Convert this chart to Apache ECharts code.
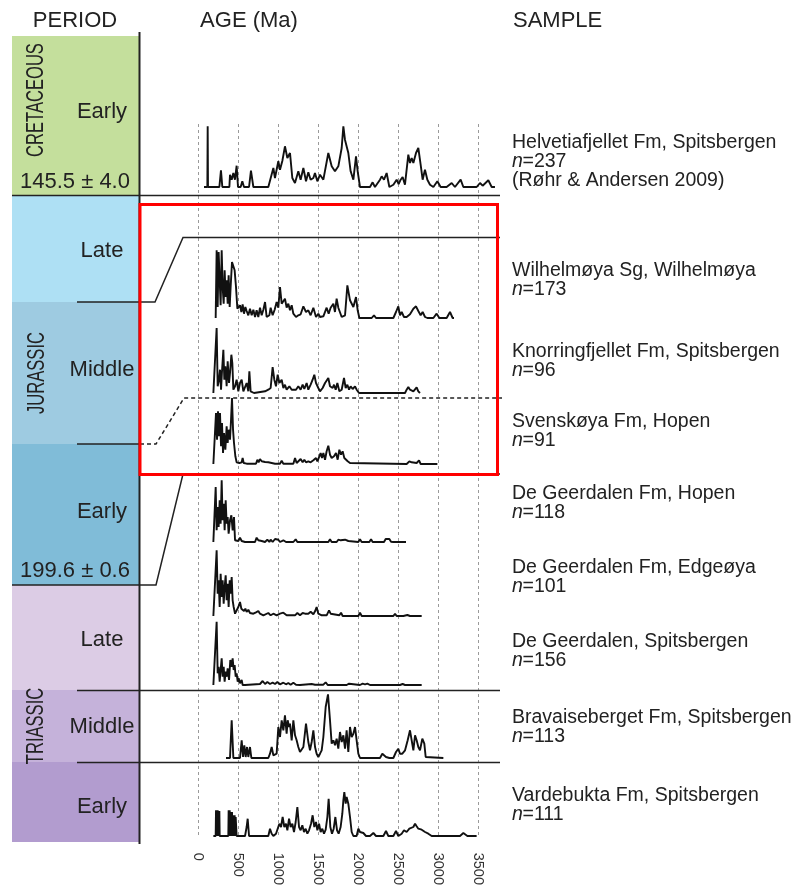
<!DOCTYPE html>
<html><head><meta charset="utf-8">
<script src="https://cdn.jsdelivr.net/npm/echarts@6/dist/echarts.min.js"></script>
<style>html,body{margin:0;padding:0;background:#fff}#c{width:798px;height:888px}</style>
</head><body><div id="c"></div>
<script>
// ---- DATA: detrital zircon age distributions, [age (Ma), relative probability] ----
const helvetiafjellet = [[75,0],[117,0],[121,60.7],[125,0],[267,0],[287,16.7],[304,0],[392,0],[400,12.3],[421,7.3],[442,14],[462,7.3],[483,21.3],[500,0],[533,0],[554,5.7],[575,0],[638,0],[662,16.3],[692,0],[879,0],[942,19],[962,9],[1004,25.7],[1025,17.3],[1054,26],[1087,40.7],[1117,29],[1150,34],[1179,9],[1212,4],[1254,15.7],[1283,7.3],[1317,19],[1350,5.7],[1379,14.7],[1408,7.3],[1442,9],[1462,14],[1492,5.7],[1525,12.3],[1567,7.3],[1629,34],[1671,20.7],[1712,15.7],[1754,20.7],[1796,39],[1817,60.7],[1837,47.3],[1858,48],[1879,34],[1908,15.7],[1942,7.3],[1975,30.7],[1996,15.7],[2025,0],[2150,0],[2183,4.7],[2212,0],[2275,7.3],[2296,10.7],[2325,7.3],[2358,14],[2392,0],[2442,2.3],[2483,7.3],[2508,3],[2533,7.3],[2558,10],[2587,2.3],[2629,32.3],[2650,24],[2671,29],[2692,24],[2725,34],[2754,39],[2783,22.3],[2808,7.3],[2837,17.3],[2867,7.3],[2900,2.3],[2942,0],[2992,5.7],[3033,0],[3108,0],[3171,4],[3212,0],[3283,7.3],[3317,0],[3483,0],[3525,4],[3558,1.3],[3629,6.7],[3671,0],[3712,0]];
const wilhelmoya = [[221,0],[233,67.7],[246,11],[258,66],[271,37.7],[283,12.7],[296,67.7],[308,31],[321,14.3],[333,47.7],[346,21],[358,37.7],[371,14.3],[383,42.7],[396,11],[408,31],[425,56],[442,57.7],[458,47.7],[475,31],[492,9.3],[508,7.7],[525,12.7],[542,6],[558,13.7],[575,4.3],[592,11],[608,7],[629,2.7],[650,9.3],[671,2.7],[692,8.3],[713,1],[733,7.7],[754,1],[775,10.3],[796,2.7],[817,8.3],[838,16],[858,1],[892,2.7],[908,10.3],[933,2.7],[958,8.3],[983,16],[1004,10.3],[1025,31],[1046,14.3],[1067,12.7],[1087,19.3],[1108,10.3],[1129,14.3],[1150,7.7],[1171,12.7],[1192,4.3],[1225,1],[1254,2.7],[1283,3.7],[1317,11.7],[1350,6],[1379,7.7],[1408,2.7],[1442,10.3],[1475,1],[1504,4.3],[1525,1],[1567,1.7],[1608,10.3],[1633,4.3],[1658,10.3],[1692,14.3],[1712,6],[1733,19.3],[1754,10.3],[1796,1],[1838,2.7],[1867,32.7],[1900,17.7],[1942,11],[1975,21],[1996,7.7],[2017,0],[2171,0],[2200,2.7],[2225,0],[2442,0],[2475,6],[2504,11.7],[2525,2.7],[2546,6],[2575,1],[2608,1],[2650,3.7],[2692,9.3],[2725,11.7],[2754,7],[2783,2.7],[2808,6],[2838,1],[2867,0],[2942,0],[2983,4.3],[3017,0],[3108,0],[3150,6],[3183,0],[3200,0]];
const knorringfjellet = [[192,0],[233,65],[246,6.7],[263,13.3],[275,23.3],[288,3.3],[300,21.7],[317,43.3],[329,13.3],[342,26.7],[358,6.7],[371,31.7],[388,10],[400,20],[417,38.3],[429,30],[442,3.3],[463,6.7],[483,13.3],[504,1.7],[525,10],[546,13.3],[567,1.7],[588,1.7],[608,10],[629,1.7],[642,21.7],[658,1.7],[683,0],[700,0],[838,1.7],[879,3.3],[908,5],[933,26],[954,13.3],[975,6.7],[996,18.3],[1017,10],[1046,13.3],[1067,5],[1087,8.3],[1108,3.3],[1142,6.7],[1171,3.3],[1192,5],[1225,3.3],[1254,6.7],[1283,3.3],[1308,8.3],[1329,4],[1358,10],[1379,3.3],[1408,8.3],[1433,13.3],[1454,18.3],[1475,10],[1504,5],[1525,1.7],[1558,5],[1588,10],[1608,8.3],[1629,15],[1650,6.7],[1683,5],[1700,8.3],[1721,3.3],[1742,10],[1767,1.7],[1796,3.3],[1825,15],[1846,5],[1867,8.3],[1888,3.3],[1908,6.7],[1933,4],[1963,6.7],[1983,3.3],[2013,0],[2588,0],[2608,3.3],[2629,6],[2650,3.3],[2671,4],[2692,1.7],[2713,3.3],[2733,5.7],[2754,1.7],[2775,0],[2783,0]];
const svenskoya = [[192,0],[225,51],[238,24.3],[250,52.7],[263,27.7],[275,51],[288,17.7],[300,41],[313,11],[325,31],[342,14.3],[358,37.7],[371,21],[383,34.3],[400,24.3],[413,44.3],[425,66],[438,34.3],[450,21],[467,7.7],[483,1.7],[517,1],[546,1.7],[558,6],[571,1],[608,0.3],[725,0.3],[742,4.3],[758,1.7],[775,5],[796,2.7],[817,4.3],[838,2],[858,3.7],[879,1.7],[900,3.3],[921,1],[963,0.3],[1025,0.3],[1046,3.3],[1067,0.3],[1192,0.3],[1213,6],[1233,1],[1254,1.7],[1283,5],[1308,1.7],[1329,4.3],[1350,1.7],[1379,2.7],[1408,1.7],[1442,3.7],[1475,6],[1492,2.7],[1517,7.7],[1533,11],[1550,6],[1567,11],[1588,4.3],[1608,12.7],[1629,18.3],[1650,9.3],[1671,6],[1700,7.7],[1725,11],[1746,4.3],[1767,14.3],[1788,9.3],[1808,12.7],[1829,6],[1850,7.7],[1871,2.7],[1900,1],[1921,0],[2608,0],[2642,2.7],[2671,1.7],[2692,0.3],[2733,1],[2763,3.7],[2783,0],[2992,0]];
const geerdalenHopen = [[192,0],[221,55],[233,11.7],[246,35],[258,15],[271,41.7],[283,18.3],[296,61.7],[308,21.7],[321,38.3],[333,11.7],[346,41.7],[358,18.3],[371,25],[383,8.3],[400,21.7],[417,26.7],[433,11.7],[450,25],[463,1.7],[483,3.3],[504,1],[525,4.3],[546,1],[588,0],[713,0],[733,4.3],[754,1.7],[775,3.3],[796,1],[817,2.3],[838,0],[867,2.3],[892,0],[908,2.3],[933,0],[963,3],[983,1],[1004,2.3],[1025,0],[1067,1.7],[1100,0],[1192,0],[1221,2.7],[1242,0],[1629,0],[1650,2.7],[1671,0],[1733,0],[1754,2.3],[1783,1.7],[1808,3.3],[1838,2.3],[1858,3.3],[1879,1],[1900,0],[2004,0],[2025,2.7],[2046,0],[2142,0],[2163,2.7],[2183,0],[2325,0],[2346,3],[2367,1],[2392,3],[2413,0.3],[2442,0],[2600,0]];
const geerdalenEdgeoya = [[192,0],[233,65.7],[246,22.3],[258,35.7],[271,9],[283,42.3],[296,19],[308,35.7],[321,12.3],[333,29],[346,40.7],[358,15.7],[371,32.3],[383,9],[396,35.7],[408,22.3],[421,39],[433,15.7],[446,9],[463,2.3],[483,4],[504,9],[525,14],[542,7.3],[558,9],[575,5],[592,7.3],[608,4],[629,6.3],[650,3],[671,5],[692,2.3],[725,3.7],[754,5],[775,2.3],[817,0.7],[879,3],[908,0.7],[942,2.3],[983,0.7],[1025,2.3],[1067,3.3],[1108,0.7],[1213,0.7],[1242,3],[1275,0.7],[1308,3],[1338,2.3],[1358,4],[1379,2.3],[1408,4.3],[1442,1.7],[1463,4.7],[1483,9],[1504,2.3],[1546,0.7],[1608,0.7],[1638,5.7],[1658,2.3],[1683,0.7],[1767,0.7],[1788,3.3],[1808,0],[2004,0],[2025,3.3],[2046,0],[2442,0],[2463,2.3],[2483,0],[2567,0],[2592,2],[2617,1],[2650,0],[2796,0]];
const geerdalenSpitsbergen = [[192,0],[233,63.3],[246,11.7],[258,18.3],[271,3.3],[283,15],[296,26.7],[308,8.3],[321,18.3],[333,3.3],[346,13.3],[358,8.3],[371,16.7],[388,5],[404,25],[421,18.3],[433,26.7],[446,15],[458,20],[471,8.3],[483,11.7],[496,3.3],[508,6.7],[525,1.7],[546,5],[558,0],[588,0],[775,1],[808,4],[838,1],[867,3],[900,1],[933,2.3],[963,1],[992,3],[1025,0.7],[1067,2.3],[1100,0.7],[1129,2],[1158,0.3],[1192,2.3],[1225,0.3],[1275,0],[1421,1],[1442,3],[1463,0.3],[1567,0.3],[1596,2.7],[1621,0],[1858,0],[1888,1.3],[1908,0],[2025,0],[2058,1.3],[2088,0.7],[2117,1.3],[2150,0],[2525,0],[2558,1],[2588,0],[2796,0]];
const bravaiseberget = [[350,0],[400,0],[421,37.7],[442,0],[525,0],[546,17.7],[563,1],[579,12.7],[596,1],[613,11],[629,1],[650,11],[667,0],[879,0],[900,4.3],[921,11],[942,2.7],[983,4.3],[1004,31],[1025,21],[1046,37.7],[1067,27.7],[1087,42.7],[1108,24.3],[1121,37.7],[1138,31],[1150,34.3],[1171,17.7],[1192,37.7],[1213,22.7],[1233,17.7],[1254,11],[1275,6],[1317,11],[1350,34.3],[1379,16],[1400,7.7],[1421,16],[1442,27.7],[1463,11],[1483,4.3],[1504,1],[1525,4.3],[1546,7.7],[1567,21],[1596,51],[1625,63.7],[1650,37.7],[1671,14.3],[1692,17.7],[1713,12.7],[1733,19.3],[1754,9.3],[1775,26],[1796,16],[1817,22.7],[1838,9.3],[1858,27.7],[1879,6],[1900,31],[1921,21],[1942,24.3],[1963,31],[1983,17.7],[2004,4.3],[2025,0],[2275,0],[2304,4.3],[2325,6],[2350,1],[2392,0],[2442,0],[2475,6],[2504,9.3],[2525,4.3],[2554,4.3],[2588,7.7],[2621,17.7],[2650,27.7],[2671,17.7],[2692,7.7],[2713,22.7],[2733,17.7],[2754,11],[2775,7.7],[2804,19.3],[2829,14.3],[2846,1],[2867,0],[3067,0]];
const vardebukta = [[192,0],[221,0],[225,25.7],[229,0],[233,25.7],[238,0],[246,25.7],[250,0],[258,25],[262,0],[267,25],[271,0],[379,0],[383,25.7],[390,0],[396,25.7],[404,0],[410,24],[417,0],[425,24],[431,0],[438,20.7],[446,0],[458,20.7],[464,0],[471,19],[483,0],[588,0],[608,9],[621,17.3],[638,0],[879,0],[900,7.3],[921,2.3],[942,0],[975,2.3],[996,7.3],[1017,12.3],[1038,9],[1058,19],[1079,9],[1100,12.3],[1117,5.7],[1138,17.3],[1158,9],[1179,12.3],[1200,4],[1221,14],[1242,29],[1263,9],[1283,5.7],[1304,10.7],[1325,4],[1346,7.3],[1367,2.3],[1388,5.7],[1413,12.3],[1433,20.7],[1454,9],[1475,14],[1492,5.7],[1513,12.3],[1533,4],[1554,7.3],[1575,2.3],[1596,6.3],[1617,19],[1633,37.3],[1654,9],[1675,2.3],[1696,7.3],[1717,19],[1738,5.7],[1758,2.3],[1783,9],[1804,22.3],[1817,35.7],[1829,44],[1846,32.3],[1858,39],[1879,32.3],[1900,19],[1921,4],[1942,0],[1983,0],[2004,7.3],[2025,4],[2046,2.3],[2067,3],[2100,0],[2150,0],[2192,3],[2225,0],[2317,0],[2350,5],[2379,0],[2442,0],[2475,5],[2504,0],[2546,2.3],[2575,5.7],[2608,4],[2642,7.3],[2663,5.7],[2692,9],[2713,12.3],[2733,9.7],[2754,7.3],[2775,9],[2796,6.3],[2817,5.7],[2838,4],[2858,5],[2879,2.3],[2900,3],[2921,0],[3275,0],[3317,3],[3338,4],[3367,0],[3483,0]];

const sampleNames = ['Helvetiafjellet Fm, Spitsbergen','Wilhelmøya Sg, Wilhelmøya','Knorringfjellet Fm, Spitsbergen','Svenskøya Fm, Hopen','De Geerdalen Fm, Hopen','De Geerdalen Fm, Edgeøya','De Geerdalen, Spitsbergen','Bravaiseberget Fm, Spitsbergen','Vardebukta Fm, Spitsbergen'];
const sampleN = [237,173,96,91,118,101,156,113,111];
const sampleRefs = ['(Røhr & Andersen 2009)','','','','','','','',''];
const curves = [helvetiafjellet,wilhelmoya,knorringfjellet,svenskoya,geerdalenHopen,geerdalenEdgeoya,geerdalenSpitsbergen,bravaiseberget,vardebukta];
const ageTicks = [0,500,1000,1500,2000,2500,3000,3500];
const periodNames = ['CRETACEOUS','JURASSIC','TRIASSIC'];
const epochNames = ['Early','Late','Middle','Early','Late','Middle','Early'];
const boundaryAges = ['145.5 ± 4.0','199.6 ± 0.6'];
const headers = ['PERIOD','AGE (Ma)','SAMPLE'];

// ---- LAYOUT (pixels) ----
const baselines = [187,318,393,464,542,616,685,758,836];
const labelY = [143,271,352,422,494,568,642,718,796];
const lineGap = 19;
const epochBands = [[36,195.5,'#c4df9c'],[195.5,302,'#aee0f4'],[302,444,'#9ecbe1'],[444,585,'#80bcd8'],[585,690,'#dccce5'],[690,762,'#c5b2da'],[762,842,'#b29ccf']];
const epochLabelY = [112,251,370,512,640,727,807];
const periodLabelPos = [[37,100],[38,373],[37,726]];
const boundaryLabelY = [182,571];
const FONT = "'Liberation Sans', Arial, sans-serif";
const ink = '#222';

const grids = [], xAxes = [], yAxes = [], series = [];
curves.forEach((c, i) => {
  grids.push({left: 198, width: 300, top: baselines[i] - 80, height: 80});
  xAxes.push({type: 'value', gridIndex: i, min: 0, max: 3750, show: false});
  yAxes.push({type: 'value', gridIndex: i, min: 0, max: 80, show: false});
  series.push({type: 'line', xAxisIndex: i, yAxisIndex: i, data: c, symbol: 'none', silent: true,
    lineStyle: {color: '#111', width: 1.9}, z: 5});
});
// background grid with the age axis and dashed gridlines
const gi = curves.length;
grids.push({left: 198, width: 280, top: 124, height: 722});
xAxes.push({type: 'value', gridIndex: gi, min: ageTicks[0], max: ageTicks[ageTicks.length-1], interval: 500,
  axisLine: {show: false}, axisTick: {show: false},
  splitLine: {show: true, lineStyle: {color: '#9a9a9a', width: 1, type: [3, 3]}},
  axisLabel: {rotate: -90, margin: 17, fontSize: 14.5, color: '#333', fontFamily: FONT, formatter: v => String(v)}});
yAxes.push({type: 'value', gridIndex: gi, min: 0, max: 1, show: false});

const els = [];
epochBands.forEach(b => els.push({type: 'rect', shape: {x: 12, y: b[0], width: 127, height: b[1] - b[0]}, style: {fill: b[2]}, z: 1}));
const txt = (t, x, y, size, align, extra) => Object.assign({type: 'text', x: x, y: y, z: 20,
  style: {text: t, font: size + 'px ' + FONT, fill: ink, align: align || 'center', verticalAlign: 'middle'}}, extra || {});
// headers
els.push(txt(headers[0], 75, 21, 22));
els.push(txt(headers[1], 249, 21, 22));
els.push(txt(headers[2], 513, 21, 22, 'left'));
// epoch labels
epochNames.forEach((n, i) => els.push(txt(n, 102, epochLabelY[i], 22)));
boundaryAges.forEach((n, i) => els.push(txt(n, 75, boundaryLabelY[i], 22)));
periodNames.forEach((n, i) => els.push(txt(n, periodLabelPos[i][0], periodLabelPos[i][1], 23, 'center',
  {rotation: Math.PI / 2, scaleX: 0.72})));
// sample labels
sampleNames.forEach((n, i) => {
  els.push(txt(n, 512, labelY[i], 19.5, 'left'));
  els.push({type: 'text', x: 512, y: labelY[i] + lineGap, z: 20, style: {text: 'n', font: 'italic 19.5px ' + FONT, fill: ink, align: 'left', verticalAlign: 'middle'}});
  els.push(txt('=' + sampleN[i], 522.5, labelY[i] + lineGap, 19.5, 'left'));
  if (sampleRefs[i]) els.push(txt(sampleRefs[i], 512, labelY[i] + 2 * lineGap, 19.5, 'left'));
});
// boundary lines
const ls = {stroke: '#222', lineWidth: 1.5, fill: null};
const pl = (pts, extra) => ({type: 'polyline', shape: {points: pts}, style: Object.assign({}, ls, extra || {}), z: 10});
els.push(pl([[139.5, 32], [139.5, 844]], {lineWidth: 2}));
els.push(pl([[12, 195.5], [500, 195.5]]));
els.push(pl([[77, 302], [155, 302], [183, 237.5], [500, 237.5]]));
els.push(pl([[77, 444], [140, 444]]));
els.push(pl([[140, 444], [156, 444], [184, 398], [502, 398]], {lineDash: [4, 3]}));
els.push(pl([[12, 585], [156, 585], [183, 474], [500, 474]]));
els.push(pl([[77, 690.5], [500, 690.5]]));
els.push(pl([[77, 762.5], [500, 762.5]]));
// red highlight box
els.push({type: 'rect', shape: {x: 140, y: 204.5, width: 357.5, height: 270}, style: {fill: null, stroke: '#ff0000', lineWidth: 3}, z: 100});

const chart = echarts.init(document.getElementById('c'), null, {renderer: 'canvas'});
chart.setOption({animation: false, backgroundColor: '#fff', grid: grids, xAxis: xAxes, yAxis: yAxes, series: series, graphic: {elements: els}});
</script></body></html>
